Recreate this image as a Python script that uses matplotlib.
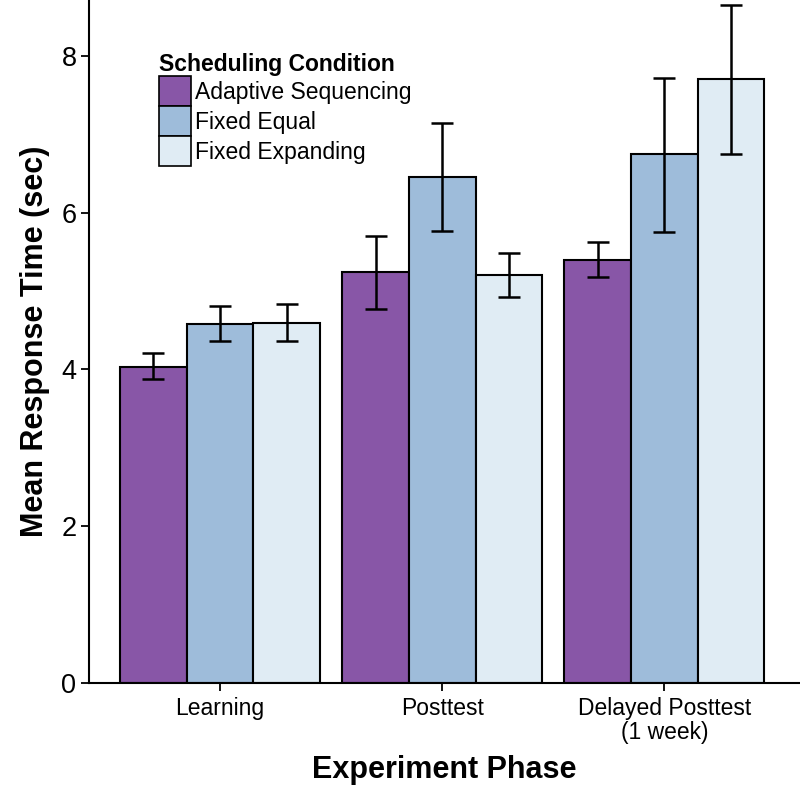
import matplotlib
matplotlib.use("Agg")
import matplotlib.pyplot as plt
from matplotlib.patches import Patch
import numpy as np

plt.rcParams['font.family'] = ['Liberation Sans', 'DejaVu Sans']

phases = ["Learning", "Posttest", "Delayed Posttest\n(1 week)"]
conditions = ["Adaptive Sequencing", "Fixed Equal", "Fixed Expanding"]
colors = ["#8856a7", "#9ebcda", "#e0ecf4"]

means = {
    "Adaptive Sequencing": [4.03, 5.24, 5.39],
    "Fixed Equal": [4.58, 6.45, 6.74],
    "Fixed Expanding": [4.59, 5.20, 7.70],
}
err_low = {
    "Adaptive Sequencing": [3.88, 4.77, 5.18],
    "Fixed Equal": [4.36, 5.76, 5.75],
    "Fixed Expanding": [4.36, 4.92, 6.74],
}
err_high = {
    "Adaptive Sequencing": [4.21, 5.70, 5.62],
    "Fixed Equal": [4.81, 7.14, 7.71],
    "Fixed Expanding": [4.83, 5.48, 8.65],
}

fig = plt.figure(figsize=(8.0, 7.9), dpi=100)
ax = fig.add_axes([89 / 800, 1 - 683 / 790, 711 / 800, 683 / 790])

x = np.arange(1, len(phases) + 1)
width = 0.9 / len(conditions)
for i, (cond, col) in enumerate(zip(conditions, colors)):
    pos = x + (i - 1) * width
    m = np.array(means[cond])
    lo = m - np.array(err_low[cond])
    hi = np.array(err_high[cond]) - m
    ax.bar(pos, m, width=width, color=col, edgecolor="black", linewidth=1.5, zorder=2)
    ax.errorbar(pos, m, yerr=[lo, hi], fmt="none", ecolor="black",
                elinewidth=1.8, capsize=8, capthick=1.8, zorder=3)

ax.set_xlim(0.41, 3.61)
ax.set_ylim(0, 8.71)
ax.set_xticks(x)
ax.set_xticklabels(phases, fontsize=16.5, linespacing=1.05)
ax.set_yticks([0, 2, 4, 6, 8])
ax.tick_params(axis="y", labelsize=19.5, length=6, width=1.3, pad=3)
ax.tick_params(axis="x", length=6, width=1.3, pad=4)
for s in ["top", "right"]:
    ax.spines[s].set_visible(False)
for s in ["left", "bottom"]:
    ax.spines[s].set_linewidth(1.5)

ax.set_ylabel("Mean Response Time (sec)", fontsize=22, fontweight="bold", labelpad=8)
ax.set_xlabel("Experiment Phase", fontsize=22, fontweight="bold")
ax.xaxis.set_label_coords(0.5, -(770 - 683) / 683)
ax.xaxis.label.set_va("center")

handles = [Patch(facecolor=c, edgecolor="black", linewidth=1.2) for c in colors]
leg = ax.legend(handles, conditions, title="Scheduling Condition",
                loc="upper left", bbox_to_anchor=(159 / 800, 1 - 53 / 790),
                bbox_transform=fig.transFigure, frameon=False,
                fontsize=16.5, title_fontproperties={"weight": "bold", "size": 16.5},
                handlelength=1.4, handleheight=1.64, labelspacing=0,
                handletextpad=0.15, borderpad=0, borderaxespad=0,
                alignment="left")

fig.savefig("out.png", dpi=100)
